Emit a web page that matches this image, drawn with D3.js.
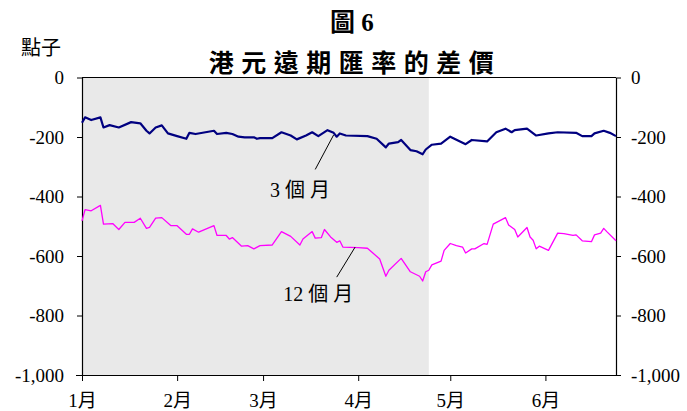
<!DOCTYPE html>
<html>
<head>
<meta charset="utf-8">
<script src="https://cdn.jsdelivr.net/npm/d3@7/dist/d3.min.js"></script>
<style>
  html, body { margin: 0; padding: 0; background: #fff; }
  svg { display: block; }
</style>
</head>
<body>
<svg id="chart" width="687" height="411"></svg>
<script>
// ---------- DATA ----------
// x values: day offsets from 1 January
const monthTickDays = [0, 31, 59, 90, 120, 151];
const monthLabels = ["1月", "2月", "3月", "4月", "5月", "6月"];
const yTickValues = [0, -200, -400, -600, -800, -1000];
const domainEndDay = 174;
const shadeEndDay = 113;

const days3m = [0,1,3,6,7,9,12,16,19,21,22,24,26,28,31,34,35,37,43,44,47,49,51,53,56,57,58,62,65,68,70,73,75,77,80,82,83,84,86,93,96,99,100,103,104,107,109,111,112,114,117,120,125,127,132,135,138,140,141,145,148,152,155,161,163,166,167,170,172,174];
const vals3m = [-152,-134,-143,-134,-168,-160,-168,-150,-154,-179,-188,-168,-161,-188,-197,-206,-186,-190,-179,-190,-186,-190,-199,-201,-201,-206,-204,-204,-184,-195,-208,-195,-184,-197,-177,-186,-199,-188,-195,-197,-206,-235,-222,-217,-210,-244,-248,-258,-242,-226,-222,-199,-224,-210,-215,-184,-172,-184,-177,-172,-195,-188,-184,-186,-197,-197,-188,-179,-186,-197];

const days12m = [0,1,3,6,7,10,12,14,17,19,21,22,24,26,29,31,34,35,36,38,43,44,47,48,49,52,54,56,58,62,65,68,71,72,75,76,78,79,81,83,84,85,90,93,97,99,100,104,107,110,111,112,113,114,117,118,120,122,124,125,127,128,131,132,134,138,139,141,142,145,146,147,148,149,152,155,157,160,161,163,166,167,169,170,171,174];
const vals12m = [-482,-444,-448,-430,-493,-491,-511,-487,-487,-473,-507,-504,-473,-471,-498,-498,-527,-527,-509,-520,-498,-531,-531,-543,-538,-567,-565,-576,-565,-563,-518,-534,-563,-543,-518,-540,-538,-511,-536,-554,-549,-570,-572,-574,-610,-668,-648,-608,-653,-668,-684,-653,-648,-630,-617,-581,-558,-565,-570,-590,-576,-576,-558,-561,-493,-471,-496,-511,-536,-504,-536,-547,-576,-567,-581,-523,-525,-531,-529,-549,-552,-529,-523,-507,-518,-549];

const seriesNames = ["3 個 月", "12 個 月"];
const titleLine1 = "圖 6";
const titleLine2 = "港元遠期匯率的差價";
const yUnit = "點子";

// ---------- LAYOUT ----------
const svg = d3.select("#chart");
const L = 82, R = 616, T = 77.5, B = 375;
const start = new Date(2001, 0, 1);
const dayToDate = d => d3.timeDay.offset(start, d);

const x = d3.scaleTime().domain([start, dayToDate(domainEndDay)]).range([L, R]);
const y = d3.scaleLinear().domain([-1000, 0]).range([B, T]);

const serif = "'Liberation Serif', 'Times New Roman', 'Noto Sans CJK TC', serif";
const cjk = "'Noto Sans CJK TC', 'Noto Sans CJK SC', sans-serif";

// shaded period
svg.append("rect")
  .attr("x", x(start)).attr("y", y(0))
  .attr("width", x(dayToDate(shadeEndDay)) - x(start))
  .attr("height", y(-1000) - y(0))
  .attr("fill", "#e9e9e9");

// frame top line
svg.append("line")
  .attr("x1", L).attr("x2", R).attr("y1", y(0)).attr("y2", y(0))
  .attr("stroke", "#000").attr("stroke-width", 1);

const fmt = v => d3.format(",")(v).replace("−", "-");

// left axis
const gl = svg.append("g").attr("transform", `translate(${L},0)`)
  .call(d3.axisLeft(y).tickValues(yTickValues).tickFormat(fmt).tickSize(5).tickPadding(13).tickSizeOuter(0));
// right axis
const gr = svg.append("g").attr("transform", `translate(${R},0)`)
  .call(d3.axisRight(y).tickValues(yTickValues).tickFormat(fmt).tickSize(5).tickPadding(10).tickSizeOuter(0));
// bottom axis
const gb = svg.append("g").attr("transform", `translate(0,${B})`)
  .call(d3.axisBottom(x).tickValues(monthTickDays.map(dayToDate))
    .tickFormat((d, i) => monthLabels[i]).tickSize(6).tickPadding(11).tickSizeOuter(0));

[gl, gr, gb].forEach(g => {
  g.selectAll("path.domain").attr("stroke", "#000").attr("stroke-width", 1.2);
  g.selectAll(".tick line").attr("stroke", "#000");
  g.selectAll("text").attr("font-family", serif).attr("font-size", 19).attr("fill", "#000");
});
gb.selectAll("text").attr("dy", "0.8em");
gb.select("path.domain").attr("d", `M${L - 6},0.5H${R + 2}`);

// lines
const line = d3.line().x(d => x(dayToDate(d[0]))).y(d => y(d[1]));
svg.append("path")
  .datum(days12m.map((d, i) => [d, vals12m[i]]))
  .attr("d", line).attr("fill", "none")
  .attr("stroke", "#ff00ff").attr("stroke-width", 1.3).attr("stroke-linejoin", "round");
svg.append("path")
  .datum(days3m.map((d, i) => [d, vals3m[i]]))
  .attr("d", line).attr("fill", "none")
  .attr("stroke", "#000080").attr("stroke-width", 2.2).attr("stroke-linejoin", "round");

// annotations (leader lines + labels)
const notes = [
  { text: seriesNames[0], lx: 71.6, ly: -400, from: [76, -309], to: [82, -193] },
  { text: seriesNames[1], lx: 77.8, ly: -752, from: [83.6, -671], to: [89.8, -570] }
];
notes.forEach(n => {
  svg.append("line")
    .attr("x1", x(dayToDate(n.from[0]))).attr("y1", y(n.from[1]))
    .attr("x2", x(dayToDate(n.to[0]))).attr("y2", y(n.to[1]))
    .attr("stroke", "#000").attr("stroke-width", 1);
  svg.append("text")
    .attr("x", x(dayToDate(n.lx))).attr("y", y(n.ly))
    .attr("text-anchor", "middle")
    .attr("font-family", serif).attr("font-size", 20)
    .text(n.text);
});

// titles
svg.append("text").attr("x", 352).attr("y", 31).attr("text-anchor", "middle")
  .attr("font-family", serif).attr("font-weight", "bold").attr("font-size", 25)
  .text(titleLine1);
svg.append("text").attr("x", 355).attr("y", 72).attr("text-anchor", "middle")
  .attr("font-family", cjk).attr("font-weight", "bold").attr("font-size", 25)
  .attr("letter-spacing", 7.5)
  .text(titleLine2);
svg.append("text").attr("x", 21).attr("y", 55)
  .attr("font-family", cjk).attr("font-size", 20)
  .text(yUnit);
</script>
</body>
</html>
